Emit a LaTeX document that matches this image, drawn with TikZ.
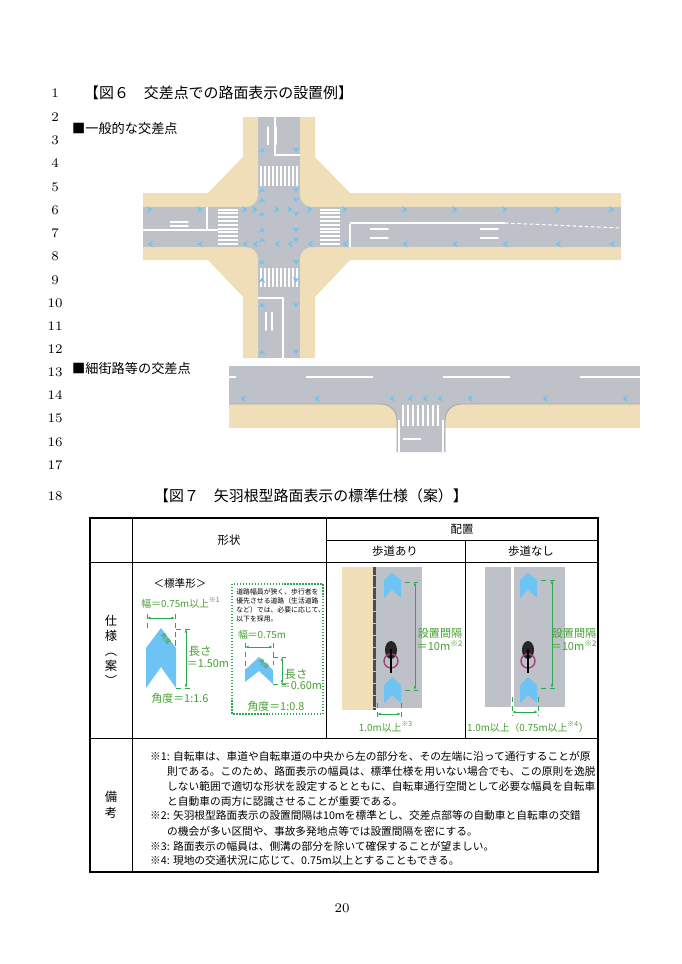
\documentclass[tikz,border=0pt]{standalone}
\usepackage{fontspec}
\setmainfont{Noto Sans CJK JP}
\newfontfamily\numfont{Latin Modern Roman}
\usetikzlibrary{positioning,calc,arrows.meta}
\definecolor{roadgray}{RGB}{190,194,200}
\definecolor{walkbeige}{RGB}{240,222,184}
\definecolor{chevblue}{RGB}{110,195,245}
\definecolor{dimgreen}{RGB}{40,170,80}
\definecolor{lblgreen}{RGB}{70,160,50}
\tikzset{
    chev/.pic={\fill[chevblue] (-3,-3.5) -- (2.5,0) -- (-3,3.5) -- (-1,0) -- cycle;},
    lnum/.style={font=\numfont\fontsize{7.5}{8}\selectfont, anchor=center},
    head/.style={font=\fontsize{8.5}{10}\selectfont, anchor=west},
    cell/.style={font=\fontsize{6.5}{8}\selectfont},
    note/.style={font=\fontsize{6.1}{8}\selectfont, anchor=west},
    glbl/.style={font=\fontsize{5.6}{6.5}\selectfont, text=lblgreen, align=left},
    dim/.style={dimgreen, line width=0.5pt, {Latex[length=2pt]}-{Latex[length=2pt]}},
    ext/.style={dimgreen, densely dashed, line width=0.4pt},
}
\begin{document}
\begin{tikzpicture}[x=0.02cm, y=-0.02cm]
\useasboundingbox[fill=white] (0,0) rectangle (682,964);

% ---- line numbers ----
\foreach \n/\y in {1/93,2/117,3/140,4/163,5/187,6/210,7/233,8/256,9/280,
    10/303,11/326,12/349,13/372,14/395,15/418,16/442,17/465,18/496}
    \node[lnum] (n\n) at (55,\y) {\n};

\node[head] (t6) at (78,93) {【図６　交差点での路面表示の設置例】};
\node[head, font=\fontsize{7.5}{9}\selectfont] (s1) at (66,128) {■一般的な交差点};
\node[head, font=\fontsize{7.5}{9}\selectfont] (s2) at (66,368) {■細街路等の交差点};

% ---- general intersection ----
\fill[walkbeige] (243,117) -- (315,117) -- (315,157) -- (350,193) -- (621,193)
    -- (621,260) -- (350,260) -- (315,297) -- (315,358) -- (243,358) -- (243,297)
    -- (208,260) -- (143,260) -- (143,193) -- (208,193) -- (243,157) -- cycle;
\fill[roadgray] (258,117) rectangle (300,358);
\fill[roadgray] (143,207) rectangle (621,247);
\fill[roadgray] (246,195) rectangle (312,259);
\foreach \fx/\fy in {246/195,312/195,246/259,312/259}
    \fill[walkbeige] (\fx,\fy) circle (12);
% crosswalks
\foreach \i in {0,...,9} {
    \fill[white] (259.5+4*\i,166) rectangle ++(2.2,20);
    \fill[white] (259.5+4*\i,268) rectangle ++(2.2,19);
    \fill[white] (218,208.5+3.8*\i) rectangle ++(20,2);
    \fill[white] (320,208.5+3.8*\i) rectangle ++(20,2);
}
% lane lines
\draw[white, line width=0.8pt] (143,230) -- (218,230);
\draw[white, line width=0.8pt] (207,207) -- (207,229);
\draw[white, line width=0.6pt] (350,223) -- (505,223);
\draw[white, line width=0.8pt] (350,224) -- (350,247);
\draw[white, line width=0.6pt, dash pattern=on 2pt off 1.5pt] (505,223) -- (621,228);
\draw[white, line width=0.8pt] (275,117) -- (275,155) -- (300,155);
\draw[white, line width=0.8pt] (258,298) -- (283,298) -- (283,358);
% white arrow markings
\foreach \ax/\ay in {180/222,180/226,380/229,380/238,490/229,490/238} {
    \draw[white, line width=0.7pt, -{Latex[length=2pt]}] (\ax-10,\ay) -- (\ax+10,\ay);
}
\foreach \ax in {268,276} \draw[white, line width=0.7pt, -{Latex[length=2pt]}] (\ax,145) -- (\ax,125);
\foreach \ax in {266,272} \draw[white, line width=0.7pt, -{Latex[length=2pt]}] (\ax,312) -- (\ax,332);
% blue chevrons
\foreach \cx in {150,200,245,255,277,290,310,345,405,455,505,558,612}
    \pic at (\cx,209.5) {chev};
\foreach \cx in {150,200,245,255,277,290,310,345,405,455,505,558,612}
    \pic[rotate=180] at (\cx,244) {chev};
\foreach \cy in {150,190,200,214,230,240,262,280,305,352}
    \pic[rotate=90] at (262,\cy) {chev};
\foreach \cy in {150,190,200,214,230,240,262,280,305,352}
    \pic[rotate=-90] at (296,\cy) {chev};

% ---- narrow street intersection ----
\fill[walkbeige] (229,404) rectangle (640,428);
\fill[roadgray] (229,366) rectangle (640,404);
\fill[roadgray] (381,404) to[out=0,in=90] (397,420) -- (397,452) -- (445,452)
    -- (445,420) to[out=90,in=180] (461,404) -- cycle;
\draw[gray!70, line width=0.5pt] (229,404) -- (381,404) to[out=0,in=90] (397,420) -- (397,452);
\draw[gray!70, line width=0.5pt] (640,404) -- (461,404) to[out=180,in=90] (445,420) -- (445,452);
\draw[white, line width=0.7pt] (399,420) -- (399,452);
\draw[white, line width=0.7pt] (443,420) -- (443,452);
\foreach \i in {0,...,7} \fill[white] (402+5*\i,405) rectangle ++(2.4,21);
\draw[white, line width=1pt] (403,439) -- (421,439);
\draw[white, line width=0.8pt, dash pattern=on 38pt off 40pt, dash phase=34pt] (229,377) -- (640,377);
\foreach \cx in {243,317,392,410,425,440,470,545,625}
    \pic[rotate=180] at (\cx,398.5) {chev};

% ---- figure 7 ----
\node[head] (t7) at (148,496) {【図７　矢羽根型路面表示の標準仕様（案）】};
\draw[line width=0.6pt] (90,518) rectangle (598,872);
\draw[line width=0.5pt] (90,562) -- (598,562) (90,738) -- (598,738)
    (132,518) -- (132,872) (326,518) -- (326,738) (465,540) -- (465,738)
    (326,540) -- (598,540);
\node[cell] (hshape) at (229,540) {形状};
\node[cell] (hplace) at (462,529) {配置};
\node[cell] (hwith) at (395,551) {歩道あり};
\node[cell] (hwithout) at (531,551) {歩道なし};
\node[cell, align=center, inner sep=0pt, font=\fontsize{7}{8.5}\selectfont] (spec) at (111,650) {仕\\様\\︵\\案\\︶};
\node[cell, align=center, inner sep=0pt, font=\fontsize{7}{9}\selectfont] (rem) at (111,805) {備\\考};

% standard shape
\node[cell, font=\fontsize{6}{7}\selectfont] (std) at (180,583) {＜標準形＞};
\node[glbl] (w1) at (181,603) {幅＝0.75m以上\textsuperscript{※1}};
\draw[dim] (147,618) -- (175,618);
\draw[ext] (147,614) -- (147,628) (175,614) -- (175,646);
\fill[chevblue] (146,688) -- (146,648) -- (161,628) -- (176,648) -- (176,688) -- (161,667) -- cycle;
\node[glbl, font=\fontsize{3.5}{4}\selectfont, rotate=-50, inner sep=0pt] (a1) at (166,639) {角度};
\draw[ext] (176,629) -- (190,629) (176,688) -- (190,688);
\draw[dim] (186,629) -- (186,688);
\node[glbl, font=\fontsize{6.5}{7.5}\selectfont] (l1) at (200,651) {長さ};
\node[glbl, font=\fontsize{6.2}{7.5}\selectfont] (l1b) at (208,664) {＝1.50m};
\node[glbl, font=\fontsize{6.2}{7.5}\selectfont] (ang1) at (180,698) {角度＝1:1.6};

% narrow shape
\draw[dimgreen, densely dotted, line width=0.7pt] (232,584) rectangle (323,714);
\node[cell, font=\fontsize{3.9}{5.2}\selectfont, align=left, anchor=north west, inner sep=0pt] (cond) at (236,588)
    {道路幅員が狭く、歩行者を\\優先させる道路（生活道路\\など）では、必要に応じて、\\以下を採用。};
\node[glbl] (w2) at (262,635) {幅＝0.75m};
\draw[dim] (245,647) -- (273,647);
\draw[ext] (245,643) -- (245,670) (273,643) -- (273,665);
\fill[chevblue] (245,682) -- (245,670) -- (259,657) -- (273,670) -- (273,684) -- (259,671) -- cycle;
\node[glbl, font=\fontsize{3.5}{4}\selectfont, rotate=-45, inner sep=0pt] (a2) at (264,664) {角度};
\draw[ext] (273,657) -- (286,657) (273,684) -- (286,684);
\draw[dim] (282,657) -- (282,684);
\node[glbl, font=\fontsize{6.5}{7.5}\selectfont] (l2) at (296,674) {長さ};
\node[glbl, font=\fontsize{6.2}{7.5}\selectfont] (l2b) at (301,686) {＝0.60m};
\node[glbl, font=\fontsize{6.2}{7.5}\selectfont] (ang2) at (276,706) {角度＝1:0.8};

% with sidewalk
\fill[walkbeige] (342,567) rectangle (373,710);
\fill[roadgray] (376,567) rectangle (422,708);
\fill[gray!60!black] (373,567) rectangle (376,710);
\foreach \y in {575,587,...,707} \draw[gray!40, line width=0.3pt] (373,\y) -- (376,\y);
\fill[chevblue] (384,598) -- (384,580) -- (392,573) -- (401,580) -- (401,598) -- (392,590) -- cycle;
\fill[chevblue] (384,703) -- (384,685) -- (392,677) -- (401,685) -- (401,703) -- (392,695) -- cycle;
\draw[ext] (405,582) -- (418,582) (405,690) -- (418,690);
\draw[dim] (415,582) -- (415,690);
\node[glbl, font=\fontsize{6.3}{7.5}\selectfont, align=center] (gap1) at (440,640) {設置間隔\\＝10m\textsuperscript{※2}};
\draw[ext] (377,703) -- (377,717) (401,703) -- (401,717);
\draw[dim] (377,714) -- (401,714);
\node[glbl] (b1) at (386,727) {1.0m以上\textsuperscript{※3}};
\fill[black!85] (391,650) ellipse (6 and 9);
\draw[magenta!60!black, line width=0.8pt] (391,661) circle (7);
\draw[black, line width=1pt] (391,649) -- (391,673);

% without sidewalk
\fill[roadgray] (485,567) rectangle (511,707);
\fill[roadgray] (514,567) rectangle (565,707);
\fill[chevblue] (520,598) -- (520,580) -- (528,573) -- (537,580) -- (537,598) -- (528,590) -- cycle;
\fill[chevblue] (520,703) -- (520,685) -- (528,677) -- (537,685) -- (537,703) -- (528,695) -- cycle;
\draw[ext] (541,580) -- (556,580) (541,688) -- (556,688);
\draw[dim] (552,580) -- (552,688);
\node[glbl, font=\fontsize{6.3}{7.5}\selectfont, align=center] (gap2) at (574,640) {設置間隔\\＝10m\textsuperscript{※2}};
\draw[ext] (512,697) -- (512,716) (538,697) -- (538,716);
\draw[dim] (512,712) -- (538,712);
\node[glbl] (b2) at (528,727) {1.0m以上（0.75m以上\textsuperscript{※4}）};
\fill[black!85] (528,650) ellipse (6 and 9);
\draw[magenta!60!black, line width=0.8pt] (528,661) circle (7);
\draw[black, line width=1pt] (528,649) -- (528,673);

% notes
\node[note] (nt1) at (144,756) {※1: 自転車は、車道や自転車道の中央から左の部分を、その左端に沿って通行することが原};
\node[note] (nt1b) at (161,771) {則である。このため、路面表示の幅員は、標準仕様を用いない場合でも、この原則を逸脱};
\node[note] (nt1c) at (161,786) {しない範囲で適切な形状を設定するとともに、自転車通行空間として必要な幅員を自転車};
\node[note] (nt1d) at (161,801) {と自動車の両方に認識させることが重要である。};
\node[note] (nt2) at (144,815) {※2: 矢羽根型路面表示の設置間隔は10mを標準とし、交差点部等の自動車と自転車の交錯};
\node[note] (nt2b) at (161,831) {の機会が多い区間や、事故多発地点等では設置間隔を密にする。};
\node[note] (nt3) at (144,846) {※3: 路面表示の幅員は、側溝の部分を除いて確保することが望ましい。};
\node[note] (nt4) at (144,860) {※4: 現地の交通状況に応じて、0.75m以上とすることもできる。};

\node[lnum] (pg) at (342,908) {20};
\end{tikzpicture}
\end{document}
